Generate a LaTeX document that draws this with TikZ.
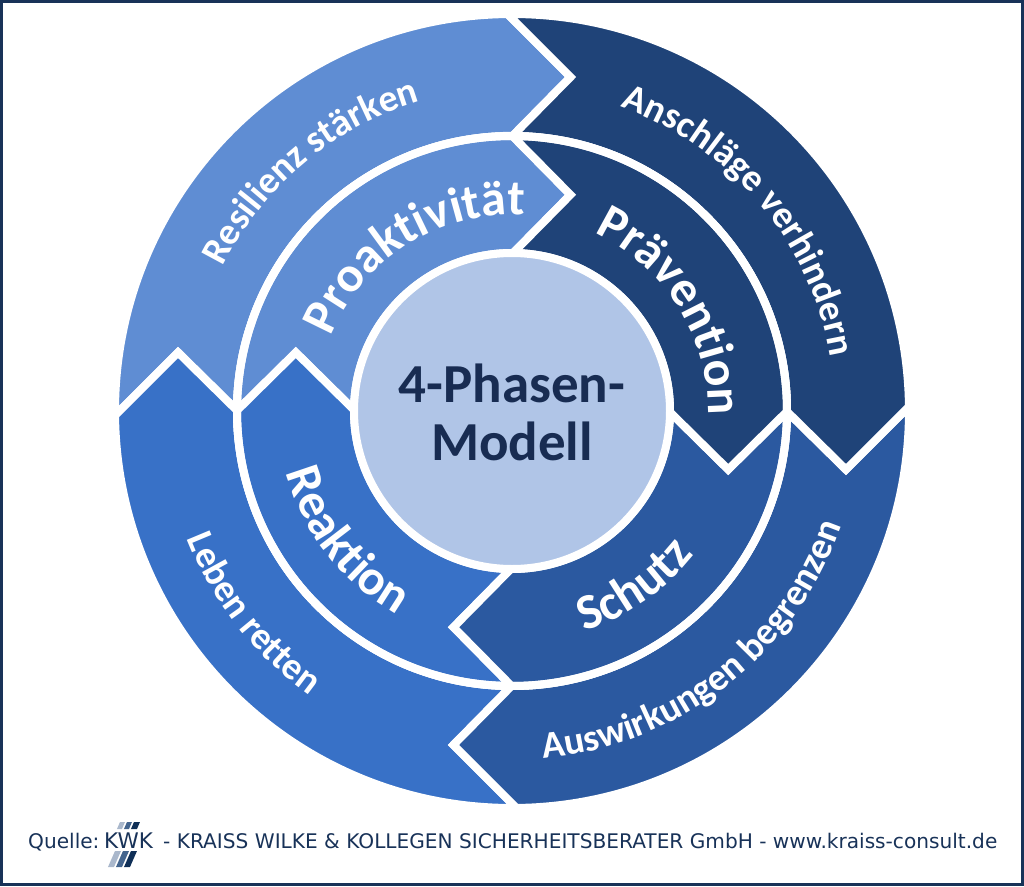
\documentclass[tikz,border=0pt]{standalone}
\usepackage{fontspec}
\setmainfont{Carlito}
\newfontfamily\footfont{DejaVu Sans}
\usetikzlibrary{decorations.text}

\definecolor{frameblue}{RGB}{24,50,88}
\definecolor{proakt}{RGB}{95,141,211}
\definecolor{reakt}{RGB}{56,113,199}
\definecolor{schutzblue}{RGB}{43,89,160}
\definecolor{praev}{RGB}{31,67,120}
\definecolor{centerdisc}{RGB}{176,197,231}
\definecolor{titleblue}{RGB}{24,44,82}
\definecolor{stripelight}{RGB}{170,184,204}
\definecolor{stripemid}{RGB}{68,101,142}
\definecolor{stripedark}{RGB}{15,47,87}

\tikzset{
  segment/.style={draw=white, line width=8pt, line join=miter, miter limit=10},
  ringline/.style={draw=white, line width=8pt},
  footer/.style={font=\footfont\fontsize{20.12}{24}\selectfont, text=frameblue, inner sep=0pt},
}

% outer and inner ring labels, clockwise and counterclockwise
\newcommand{\cwlabel}[4]{\path[decorate, decoration={text along path, text color=white, text align=center,
  text={|#4|#3}}] (#2+75:#1) arc[start angle=#2+75, end angle=#2-75, radius=#1];}
\newcommand{\ccwlabel}[4]{\path[decorate, decoration={text along path, text color=white, text align=center,
  text={|#4|#3}}] (#2-75:#1) arc[start angle=#2-75, end angle=#2+75, radius=#1];}
\newcommand{\outerfont}{\bfseries\fontsize{38}{40}\selectfont}
\newcommand{\innerfont}{\bfseries\fontsize{50}{52}\selectfont}

\begin{document}
\begin{tikzpicture}[x=1pt, y=1pt]
  \useasboundingbox (-512,-475) rectangle (512,411);
  \draw[frameblue, line width=2.6pt] (-510.7,-473.7) rectangle (510.7,409.7);

  % four arrow segments, outer and inner ring
  \foreach \rot/\col in {0/proakt, 90/reakt, 180/schutzblue, 270/praev}{
    \begin{scope}[rotate=\rot]
      \filldraw[segment, fill=\col] (90.65:397) -- (80.06:339) -- (89.9:275)
        arc[start angle=89.9, end angle=179.9, radius=275] -- (170.06:339) -- (180.65:397)
        arc[start angle=180.65, end angle=90.65, radius=397] -- cycle;
      \filldraw[segment, fill=\col] (89.9:275) -- (74.86:224) -- (89.6:158)
        arc[start angle=89.6, end angle=179.6, radius=158] -- (164.86:224) -- (179.9:275)
        arc[start angle=179.9, end angle=89.9, radius=275] -- cycle;
    \end{scope}
  }
  \draw[ringline] (0,0) circle[radius=275];
  \filldraw[ringline, fill=centerdisc] (0,0) circle[radius=158];

  % centre title
  \node[align=center, text=titleblue, font=\bfseries\fontsize{55}{58}\selectfont] (title) at (0,-1) {4-Phasen-\\Modell};

  % labels on the rings
  \cwlabel{323}{130}{Resilienz stärken}{\outerfont}
  \cwlabel{323}{40}{Anschläge verhindern}{\outerfont}
  \ccwlabel{349}{218}{Leben retten}{\outerfont}
  \ccwlabel{349}{308}{Auswirkungen begrenzen}{\outerfont}
  \cwlabel{196}{122}{Proaktivität}{\innerfont}
  \cwlabel{196}{32}{Prävention}{\innerfont}
  \ccwlabel{234}{218}{Reaktion}{\innerfont}
  \ccwlabel{232}{305}{Schutz}{\innerfont}

  % source line with the stripes of the logo
  \node[footer, anchor=base west] (quelle) at (-484,-437) {Quelle:};
  \node[footer, anchor=base west, font=\footfont\fontsize{21.5}{24}\selectfont] (kwk) at (-408,-437) {KWK};
  \node[footer, anchor=base west] (source) at (-349,-437) {- KRAISS WILKE \& KOLLEGEN SICHERHEITSBERATER GmbH - www.kraiss-consult.de};
  \fill[stripelight] (-392,-411) -- (-387,-411) -- (-390,-418) -- (-395,-418) -- cycle;
  \fill[stripemid] (-385,-411) -- (-380,-411) -- (-383,-418) -- (-388,-418) -- cycle;
  \fill[stripedark] (-378,-411) -- (-372,-411) -- (-375,-418) -- (-381,-418) -- cycle;
  \fill[stripelight] (-397,-440) -- (-391,-440) -- (-398,-456) -- (-404,-456) -- cycle;
  \fill[stripemid] (-389,-440) -- (-383,-440) -- (-390,-456) -- (-396,-456) -- cycle;
  \fill[stripedark] (-381,-440) -- (-375,-440) -- (-382,-456) -- (-388,-456) -- cycle;
\end{tikzpicture}
\end{document}
